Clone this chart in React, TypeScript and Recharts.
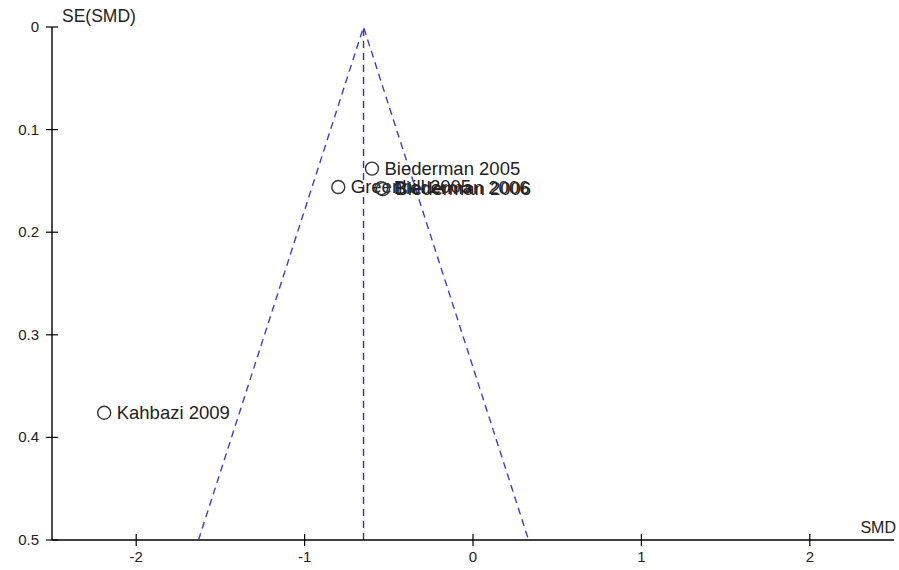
import { ReferenceLine, Scatter, ScatterChart, XAxis, YAxis } from 'recharts'

const studies = ['Biederman 2005', 'Greenhill 2005', 'Biederman 2006', 'Biederman 2006', 'Kahbazi 2009']
const smd = [-0.6, -0.8, -0.545, -0.535, -2.19]
const se = [0.138, 0.156, 0.157, 0.158, 0.376]

const pooledSmd = -0.65
const funnelSmd = [-1.63, -0.65, 0.33]
const funnelSe = [0.5, 0, 0.5]

const xTicks = [-2, -1, 0, 1, 2]
const yTicks = [0, 0.1, 0.2, 0.3, 0.4, 0.5]

const points = studies.map((name, i) => ({ name, smd: smd[i], se: se[i] }))
const funnel = funnelSmd.map((x, i) => ({ smd: x, se: funnelSe[i] }))

const FONT = '"Liberation Sans", Arial, sans-serif'
const TEXT = '#222'

const YTick = ({ x, y, payload }) => (
  <g>
    <line x1={x - 6} x2={x + 6} y1={y} y2={y} stroke="#000" strokeWidth={1.2} />
    <text x={x - 13} y={y + 5} textAnchor="end" fontSize={15} fontFamily={FONT} fill={TEXT}>
      {payload.value}
    </text>
  </g>
)

const XTick = ({ x, y, payload }) => (
  <g>
    <line x1={x} x2={x} y1={y - 6} y2={y + 6} stroke="#000" strokeWidth={1.2} />
    <text x={x} y={y + 22} textAnchor="middle" fontSize={15} fontFamily={FONT} fill={TEXT}>
      {payload.value}
    </text>
  </g>
)

const StudyDot = ({ cx, cy, payload }) => (
  <g>
    <circle cx={cx} cy={cy} r={6.5} fill="none" stroke="#333" strokeWidth={1.4} />
    <text x={cx + 12.5} y={cy + 6} fontSize={18.5} fontFamily={FONT} fill={TEXT}>
      {payload.name}
    </text>
  </g>
)

const App = () => {
  return (
    <div style={{ position: 'absolute', left: 0, top: 0, width: 899, height: 570, background: '#fff' }}>
      <ScatterChart width={899} height={570} margin={{ top: 27, right: 5, bottom: 0, left: 0 }}>
        <XAxis
          type="number"
          dataKey="smd"
          domain={[-2.5, 2.5]}
          ticks={xTicks}
          height={30}
          tickSize={0}
          tickMargin={0}
          tickLine={false}
          tick={<XTick />}
          axisLine={{ stroke: '#000', strokeWidth: 1.4 }}
          allowDataOverflow
          label={{
            content: ({ viewBox }) => (
              <text
                x={viewBox.x + viewBox.width + 2}
                y={viewBox.y - 7}
                textAnchor="end"
                fontSize={16}
                fontFamily={FONT}
                fill={TEXT}
              >
                SMD
              </text>
            ),
          }}
        />
        <YAxis
          type="number"
          dataKey="se"
          domain={[0, 0.5]}
          ticks={yTicks}
          reversed
          width={52}
          tickSize={0}
          tickMargin={0}
          tickLine={false}
          tick={<YTick />}
          axisLine={{ stroke: '#000', strokeWidth: 1.4 }}
          allowDataOverflow
          label={{
            content: ({ viewBox }) => (
              <text x={viewBox.x + 62} y={viewBox.y - 5} fontSize={17.5} fontFamily={FONT} fill={TEXT}>
                SE(SMD)
              </text>
            ),
          }}
        />
        <ReferenceLine x={pooledSmd} stroke="#35359a" strokeWidth={1.4} strokeDasharray="7 5" />
        <Scatter
          data={funnel}
          line={{ stroke: '#3d3dd0', strokeWidth: 1.4, strokeDasharray: '7 5' }}
          lineType="joint"
          shape={() => <g />}
          isAnimationActive={false}
        />
        <Scatter data={points} shape={<StudyDot />} isAnimationActive={false} />
      </ScatterChart>
    </div>
  )
}

export default App
